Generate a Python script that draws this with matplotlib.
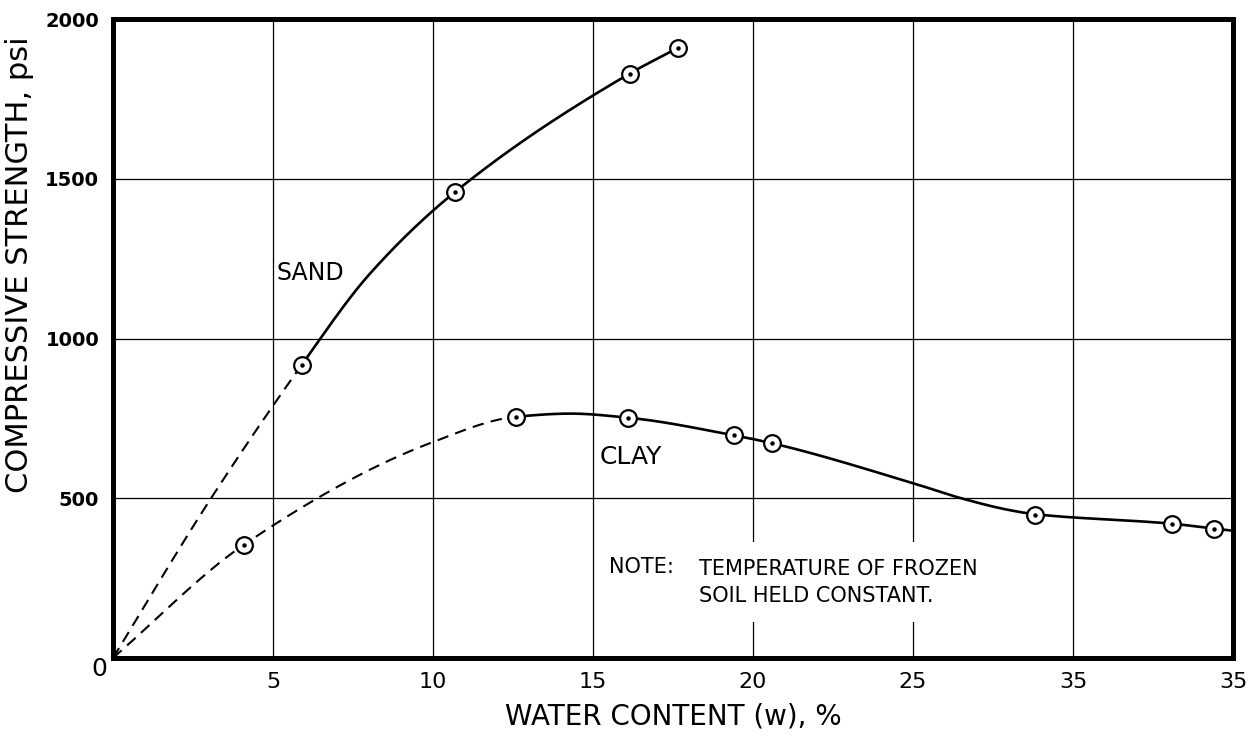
import numpy as np
import matplotlib
matplotlib.use("Agg")
import matplotlib.pyplot as plt

# measured points (water content %, compressive strength psi)
sand_w = [5.9, 10.7, 16.15, 17.65]
sand_s = [918, 1460, 1830, 1910]
clay_w = [4.1, 12.6, 16.1, 19.4, 20.6, 28.8, 33.1, 34.4]
clay_s = [355, 755, 752, 697, 672, 448, 420, 405]

# hand-drawn curves through the points (dashed up to the first solid point)
sand_curve_w = [0, 3.0, 5.9, 8.0, 10.7, 16.15, 17.65]
sand_curve_s = [0, 490, 918, 1200, 1460, 1830, 1910]
sand_dash_end = 5.9
clay_curve_w = [0, 4.1, 10.0, 12.6, 14.3, 16.1, 19.4, 20.6, 25.0, 26.5, 28.0, 28.8, 33.1, 34.4, 35.0]
clay_curve_s = [0, 355, 676, 755, 765, 752, 697, 672, 547, 500, 463, 450, 420, 405, 398]
clay_dash_end = 12.6

x_ticks = [5, 10, 15, 20, 25, 30, 35]
x_tick_labels = ["5", "10", "15", "20", "25", "35", "35"]
y_ticks = [500, 1000, 1500, 2000]
y_tick_labels = ["500", "1000", "1500", "2000"]


def pchip(x, y, xs):
    x = np.asarray(x, float)
    y = np.asarray(y, float)
    h = np.diff(x)
    d = np.diff(y) / h
    m = np.zeros_like(y)
    m[0], m[-1] = d[0], d[-1]
    for k in range(1, len(x) - 1):
        if d[k - 1] * d[k] > 0:
            w1 = 2 * h[k] + h[k - 1]
            w2 = h[k] + 2 * h[k - 1]
            m[k] = (w1 + w2) / (w1 / d[k - 1] + w2 / d[k])
    idx = np.clip(np.searchsorted(x, xs) - 1, 0, len(x) - 2)
    t = (xs - x[idx]) / h[idx]
    h00 = 2 * t**3 - 3 * t**2 + 1
    h10 = t**3 - 2 * t**2 + t
    h01 = -2 * t**3 + 3 * t**2
    h11 = t**3 - t**2
    return h00 * y[idx] + h10 * h[idx] * m[idx] + h01 * y[idx + 1] + h11 * h[idx] * m[idx + 1]


fig = plt.figure(figsize=(12.56, 7.40), dpi=100)
ax = fig.add_axes([0.090, 0.111, 0.8917, 0.863])

ax.set_xlim(0, 35)
ax.set_ylim(0, 2000)

for cw, cs, split in [(sand_curve_w, sand_curve_s, sand_dash_end),
                      (clay_curve_w, clay_curve_s, clay_dash_end)]:
    xd = np.linspace(cw[0], split, 120)
    xs = np.linspace(split, cw[-1], 300)
    ax.plot(xd, pchip(cw, cs, xd), color="black", lw=1.5, ls=(0, (5.5, 3.5)), zorder=3)
    ax.plot(xs, pchip(cw, cs, xs), color="black", lw=1.9, zorder=3)

for w, s in [(sand_w, sand_s), (clay_w, clay_s)]:
    ax.plot(w, s, ls="none", marker="o", ms=12, mfc="white", mec="black", mew=1.6, zorder=4)
    ax.plot(w, s, ls="none", marker="o", ms=2.2, mfc="black", mec="black", zorder=5)

ax.set_xticks(x_ticks)
ax.set_xticklabels(x_tick_labels, fontsize=16)
ax.set_yticks(y_ticks)
ax.set_yticklabels(y_tick_labels, fontsize=14, fontweight="bold")
ax.tick_params(length=0, pad=10)
ax.grid(True, color="black", lw=0.9)
ax.set_axisbelow(True)

for sp in ax.spines.values():
    sp.set_linewidth(3.6)

ax.text(-0.012, -0.018, "0", transform=ax.transAxes, fontsize=18,
        ha="center", va="center")

ax.set_xlabel("WATER CONTENT (w), %", fontsize=20, labelpad=8)
ax.set_ylabel("COMPRESSIVE STRENGTH, psi", fontsize=22, labelpad=8, y=0.615)

ax.text(5.1, 1205, "SAND", fontsize=17, ha="left", va="center")
ax.text(15.2, 630, "CLAY", fontsize=18, ha="left", va="center")
ax.text(15.5, 285, "NOTE:", fontsize=15, ha="left", va="center")
ax.text(18.3, 237, "TEMPERATURE OF FROZEN\nSOIL HELD CONSTANT.", fontsize=15,
        ha="left", va="center", linespacing=1.45,
        bbox=dict(facecolor="white", edgecolor="none", pad=12), zorder=2)

fig.savefig("out.png", dpi=100)
